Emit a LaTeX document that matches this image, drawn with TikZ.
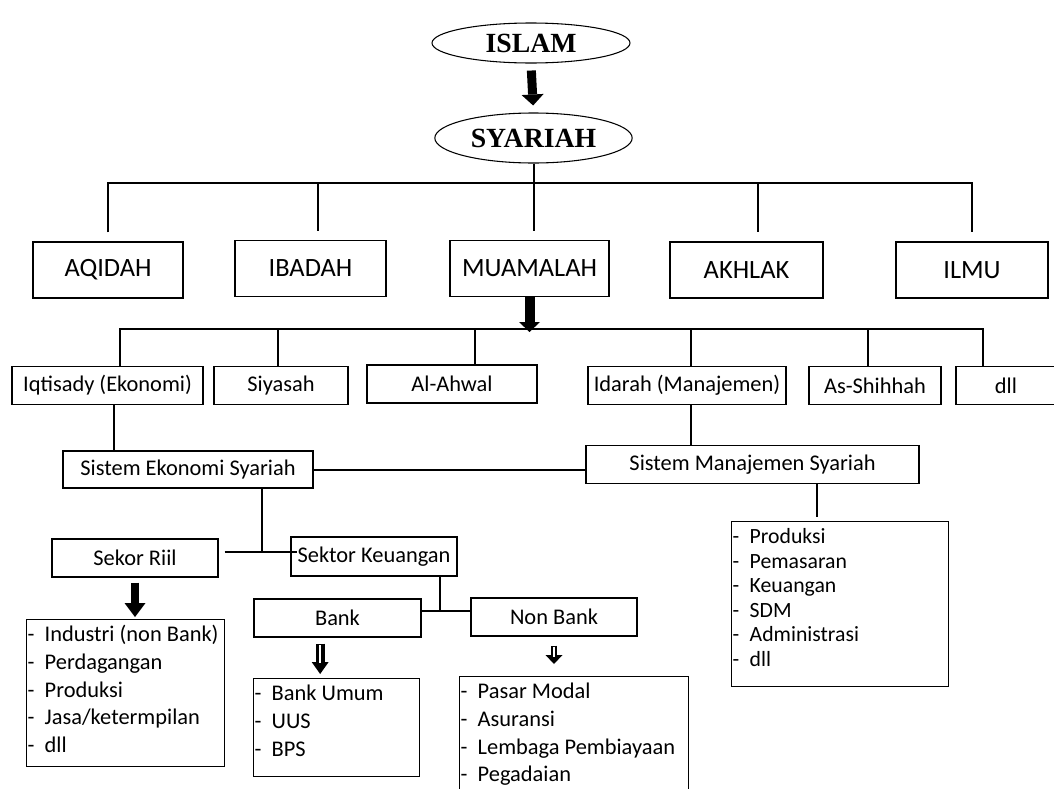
\documentclass[tikz,border=0pt]{standalone}
\usepackage{fontspec}
\setmainfont{Carlito}
\newfontfamily\judul{Liberation Serif}
\usetikzlibrary{arrows.meta, shapes.geometric}
\newcommand{\btr}[1]{\makebox[12.75pt][l]{-}{\spaceskip=0.226em\relax#1}}

\begin{document}
\begin{tikzpicture}[x=0.75pt, y=-0.75pt,
  elp/.style={ellipse, draw, line width=0.8pt, inner sep=0pt,
    font=\fontsize{20.8}{24}\selectfont\judul\bfseries},
  pil/.style={rectangle, draw, line width=1.1pt, minimum height=42pt,
    inner sep=1pt, font=\fontsize{19.8}{23}\selectfont},
  kot/.style={rectangle, draw, line width=1.1pt, minimum height=28.5pt,
    inner sep=1.5pt, font=\fontsize{16.8}{20}\selectfont},
  daf/.style={rectangle, draw, line width=1.1pt, anchor=north west,
    inner xsep=0.75pt, inner ysep=3.5pt, text height=13pt,
    font=\fontsize{16.8}{20.8}\selectfont},
  gar/.style={line width=1.5pt},
  pan/.style={line width=6.75pt,
    -{Triangle[width=16.5pt, length=8.25pt, line width=0pt]}},
  putih/.style={white, line width=1.5pt}
]
\useasboundingbox (0,0) rectangle (1054,789);

%% ── Islam dan Syariah ────────────────────────────────────────────────
\node[elp, minimum width=148.5pt, minimum height=30pt] (IS) at (531, 43) {ISLAM};
\node[elp, minimum width=148pt, minimum height=37.5pt] (SYA) at (533.5, 138) {SYARIAH};

\draw[pan, shorten <=5.25pt, shorten >=5.25pt] (IS.south) -- (SYA.north);

%% ── Lima pilar (baris 1) ─────────────────────────────────────────────
\node[pil, minimum width=112.5pt] (AQ) at (108,   270)   {AQIDAH};
\node[pil, minimum width=113pt]   (IB) at (310.5, 268.5) {IBADAH};
\node[pil, minimum width=119pt]   (MU) at (529.5, 268.5) {MUAMALAH};
\node[pil, minimum width=115pt]   (AK) at (746.5, 270)   {AKHLAK};
\node[pil, minimum width=114pt]   (IL) at (972,   270)   {ILMU};

\coordinate (bus1) at (533, 183);
\draw[gar, shorten <=6.75pt, shorten >=6.75pt] (AQ.north) |- (bus1) -| (IL.north);
\draw[gar, shorten >=6.75pt] ([xshift=5.6pt]IB.north |- bus1) -- ([xshift=5.6pt]IB.north);
\draw[gar, shorten >=6.75pt] (SYA.south) -- (SYA.south |- MU.north);
\draw[gar, shorten >=6.75pt] ([xshift=8.6pt]AK.north |- bus1) -- ([xshift=8.6pt]AK.north);

%% ── Cabang muamalah (baris 2) ────────────────────────────────────────
\node[kot, minimum width=143.25pt] (IQ) at (107.5, 385.5) {Iqtisady (Ekonomi)};
\node[kot, minimum width=100.5pt]  (SI) at (281,   385.5) {Siyasah};
\node[kot, minimum width=127.5pt]  (AA) at (452,   384)   {Al-Ahwal};
\node[kot, minimum width=148.5pt]  (ID) at (687,   385.5) {Idarah (Manajemen)};
\node[kot, minimum width=99pt]     (SH) at (875,   385.5) {As-Shihhah};
\node[kot, minimum width=75pt]     (DL) at (1006,  385.5) {dll};

\coordinate (bus2) at (530, 329);
\draw[pan, line width=7.5pt, shorten >=-2.25pt,
  -{Triangle[width=15.75pt, length=7.5pt, line width=0pt]}]
  (MU.south) -- (MU.south |- bus2);
\draw[gar] ([xshift=9.4pt]IQ.north) |- (bus2) -| ([xshift=-17.25pt]DL.north);
\draw[gar] ([xshift=-2.25pt]SI.north) -- ([xshift=-2.25pt]SI.north |- bus2);
\draw[gar] ([xshift=17.25pt]AA.north) -- ([xshift=17.25pt]AA.north |- bus2);
\draw[gar] ([xshift=3pt]ID.north) -- ([xshift=3pt]ID.north |- bus2);
\draw[gar] ([xshift=-5.25pt]SH.north) -- ([xshift=-5.25pt]SH.north |- bus2);

%% ── Sistem ───────────────────────────────────────────────────────────
\node[kot, minimum width=187.5pt, minimum height=27.75pt] (SES) at (188, 469.5) {Sistem Ekonomi Syariah};
\node[kot, minimum width=249.75pt] (SMS) at (752.5, 464.5) {Sistem Manajemen Syariah};

\draw[gar] ([xshift=4.9pt]IQ.south) -- ([xshift=4.9pt]IQ.south |- SES.north);
\draw[gar] ([xshift=3pt]ID.south) -- ([xshift=3pt]ID.south |- SMS.north);
\draw[gar] (SES.east) -- (SES.east -| SMS.west);

%% ── Sektor ───────────────────────────────────────────────────────────
\node[kot, minimum width=124.5pt] (SR) at (135, 558)   {Sekor Riil};
\node[kot, minimum width=124.5pt, minimum height=29.25pt] (SK) at (374, 556.5) {Sektor Keuangan};
\node[kot, minimum width=125.25pt] (BK) at (337.5, 618) {Bank};
\node[kot, minimum width=124.5pt]  (NB) at (554, 617)   {Non Bank};

\coordinate (jn1) at (262, 552);
\coordinate (jn2) at (440, 611);
\draw[gar] (SES.south -| jn1) -- (jn1);
\draw[gar] ([xshift=4.5pt]SR.east |- jn1) -- ([xshift=5.25pt]SK.west |- jn1);
\draw[gar] (SK.south -| jn2) -- (jn2);
\draw[gar] (BK.east |- jn2) -- (NB.west |- jn2);

%% ── Daftar ───────────────────────────────────────────────────────────
\node[daf, text width=147pt, text depth=90.25pt] (RL) at (26, 619) {%
  \btr{Industri (non Bank)}\\
  \btr{Perdagangan}\\
  \btr{Produksi}\\
  \btr{Jasa/ketermpilan}\\
  \btr{dll}%
};
\node[daf, text width=123pt, text depth=53.5pt] (BL) at (253, 678) {%
  \btr{Bank Umum}\\
  \btr{UUS}\\
  \btr{BPS}%
};
\node[daf, text width=170.25pt, text depth=73pt] (NL) at (459, 676) {%
  \btr{Pasar Modal}\\
  \btr{Asuransi}\\
  \btr{Lembaga Pembiayaan}\\
  \btr{Pegadaian}%
};
\node[daf, text width=161.25pt, text depth=103.75pt,
  font=\fontsize{16.3}{18.4}\selectfont] (ML) at (731, 521) {%
  \btr{Produksi}\\
  \btr{Pemasaran}\\
  \btr{Keuangan}\\
  \btr{SDM}\\
  \btr{Administrasi}\\
  \btr{dll}%
};

\draw[pan, line width=6pt, shorten <=3.75pt, shorten >=1.5pt,
  -{Triangle[width=15.75pt, length=10.5pt, line width=0pt]}]
  (SR.south) -- (SR.south |- RL.north);
\draw[pan, shorten <=4.5pt, shorten >=3pt,
  -{Triangle[width=12.75pt, length=9pt, line width=0pt]}]
  ([xshift=-13pt]BK.south) -- ([xshift=-13pt]BK.south |- BL.north);
\draw[putih, shorten <=5.5pt, shorten >=11.5pt]
  ([xshift=-13pt]BK.south) -- ([xshift=-13pt]BK.south |- BL.north);
\draw[pan, line width=4.5pt, shorten <=6.75pt, shorten >=9pt,
  -{Triangle[width=12.75pt, length=6.75pt, line width=0pt]}]
  (NB.south) -- (NB.south |- NL.north);
\draw[putih, line width=1.2pt, shorten <=7.5pt, shorten >=14.5pt]
  (NB.south) -- (NB.south |- NL.north);
\draw[gar, shorten >=3pt] ([xshift=48.4pt]SMS.south) -- ([xshift=48.4pt]SMS.south |- ML.north);

\end{tikzpicture}
\end{document}
